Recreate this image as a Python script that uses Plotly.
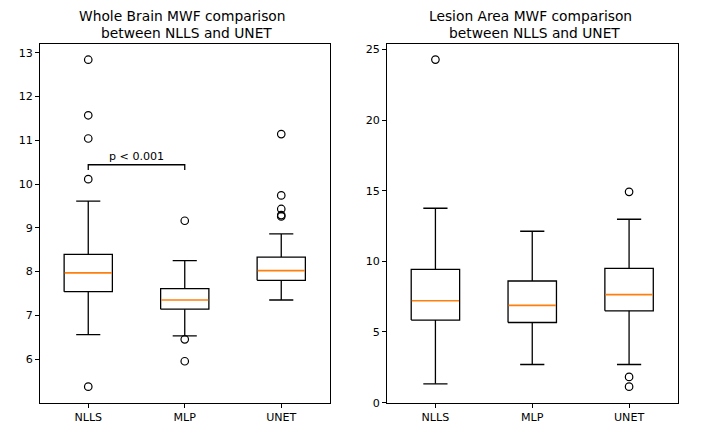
import plotly.graph_objects as go

categories = ["NLLS", "MLP", "UNET"]

# Whole brain MWF box statistics
wb_q1 = [7.54, 7.14, 7.80]
wb_median = [7.97, 7.35, 8.02]
wb_q3 = [8.39, 7.61, 8.33]
wb_low = [6.56, 6.53, 7.35]
wb_high = [9.61, 8.25, 8.86]
wb_outliers = [
    [12.84, 11.57, 11.04, 10.11, 5.37],
    [9.16, 6.45, 5.95],
    [11.14, 9.74, 9.43, 9.29, 9.26],
]

# Lesion area MWF box statistics
la_q1 = [5.84, 5.67, 6.50]
la_median = [7.21, 6.88, 7.64]
la_q3 = [9.43, 8.61, 9.50]
la_low = [1.33, 2.70, 2.70]
la_high = [13.76, 12.13, 12.98]
la_outliers = [
    [24.28],
    [],
    [14.92, 1.82, 1.13],
]

# significance annotation (whole brain, NLLS vs MLP)
sig_label = "p < 0.001"
sig_pair = (0, 1)
sig_level = 10.44
sig_drop = 0.12

title_lines = [["Whole Brain MWF comparison", " between NLLS and UNET"],
               ["Lesion Area MWF comparison", " between NLLS and UNET"]]

BOX_HALF = 0.25
CAP_HALF = 0.125
LW = 1.3
MLW = 1.7
FONT = "DejaVu Sans"
W, H = 706, 442
OFF = 8  # page body margin
VS = 450 / 442  # vertical capture scale


def px_x(p):
    return (p - OFF) / W


def px_y(p):
    return (H - (p * VS - OFF)) / H


fig = go.Figure()


def add_boxes(q1, med, q3, low, high, outl, xa, ya):
    for i, cat in enumerate(categories):
        x = i + 1
        fig.add_trace(go.Scatter(
            x=[x - BOX_HALF, x + BOX_HALF, x + BOX_HALF, x - BOX_HALF, x - BOX_HALF],
            y=[q1[i], q1[i], q3[i], q3[i], q1[i]],
            mode="lines", line=dict(color="black", width=LW),
            xaxis=xa, yaxis=ya, showlegend=False, hoverinfo="skip"))
        fig.add_trace(go.Scatter(
            x=[x, x, None, x, x],
            y=[q1[i], low[i], None, q3[i], high[i]],
            mode="lines", line=dict(color="black", width=LW),
            xaxis=xa, yaxis=ya, showlegend=False, hoverinfo="skip"))
        fig.add_trace(go.Scatter(
            x=[x - CAP_HALF, x + CAP_HALF, None, x - CAP_HALF, x + CAP_HALF],
            y=[low[i], low[i], None, high[i], high[i]],
            mode="lines", line=dict(color="black", width=LW),
            xaxis=xa, yaxis=ya, showlegend=False, hoverinfo="skip"))
        fig.add_trace(go.Scatter(
            x=[x - BOX_HALF + 0.006, x + BOX_HALF - 0.006],
            y=[med[i], med[i]],
            mode="lines", line=dict(color="#ff7f0e", width=MLW),
            xaxis=xa, yaxis=ya, showlegend=False, hoverinfo="skip"))
        if outl[i]:
            fig.add_trace(go.Scatter(
                x=[x] * len(outl[i]), y=outl[i],
                mode="markers",
                marker=dict(symbol="circle-open", size=7.5,
                            color="black", line=dict(width=1.2, color="black")),
                xaxis=xa, yaxis=ya, showlegend=False, hoverinfo="skip"))


add_boxes(wb_q1, wb_median, wb_q3, wb_low, wb_high, wb_outliers, "x", "y")
add_boxes(la_q1, la_median, la_q3, la_low, la_high, la_outliers, "x2", "y2")

a, b = sig_pair[0] + 1, sig_pair[1] + 1
fig.add_trace(go.Scatter(
    x=[a, a, b, b],
    y=[sig_level - sig_drop, sig_level, sig_level, sig_level - sig_drop],
    mode="lines", line=dict(color="black", width=LW),
    xaxis="x", yaxis="y", showlegend=False, hoverinfo="skip"))
fig.add_annotation(x=(a + b) / 2, y=sig_level, xref="x", yref="y",
                   text=sig_label, showarrow=False, yanchor="bottom",
                   yshift=0, font=dict(family=FONT, size=11.1, color="black"))

axis_common = dict(showline=True, linecolor="black", linewidth=1, mirror=True,
                   ticks="outside", ticklen=4, tickwidth=1, tickcolor="black",
                   showgrid=False, zeroline=False,
                   tickfont=dict(family=FONT, size=11.1, color="black"))

dom1 = [px_x(40), px_x(329.5)]
dom2 = [px_x(387), px_x(677.5)]
ydom = [px_y(401.7), px_y(43.3)]

fig.update_layout(
    width=W, height=H,
    margin=dict(l=0, r=0, t=0, b=0),
    paper_bgcolor="white", plot_bgcolor="white",
    xaxis=dict(domain=dom1, range=[0.5, 3.5], tickvals=[1, 2, 3],
               ticktext=categories, anchor="y", **axis_common),
    yaxis=dict(domain=ydom, range=[5.005, 13.21], dtick=1, tick0=0,
               anchor="x", **axis_common),
    xaxis2=dict(domain=dom2, range=[0.5, 3.5], tickvals=[1, 2, 3],
                ticktext=categories, anchor="y2", **axis_common),
    yaxis2=dict(domain=ydom, range=[0, 25.42], dtick=5, tick0=0,
                anchor="x2", **axis_common),
    font=dict(family=FONT, color="black"),
)

for dom, lines in zip([dom1, dom2], title_lines):
    cx = (dom[0] + dom[1]) / 2
    for k, (txt, ypx, xs) in enumerate(zip(lines, [15.5, 32.5], [-2, 2])):
        fig.add_annotation(x=cx, y=px_y(ypx), xref="paper", yref="paper",
                           text=txt.strip(), showarrow=False, xshift=xs,
                           xanchor="center", yanchor="middle",
                           font=dict(family=FONT, size=13.8, color="black"))

fig.write_html("out.html")
